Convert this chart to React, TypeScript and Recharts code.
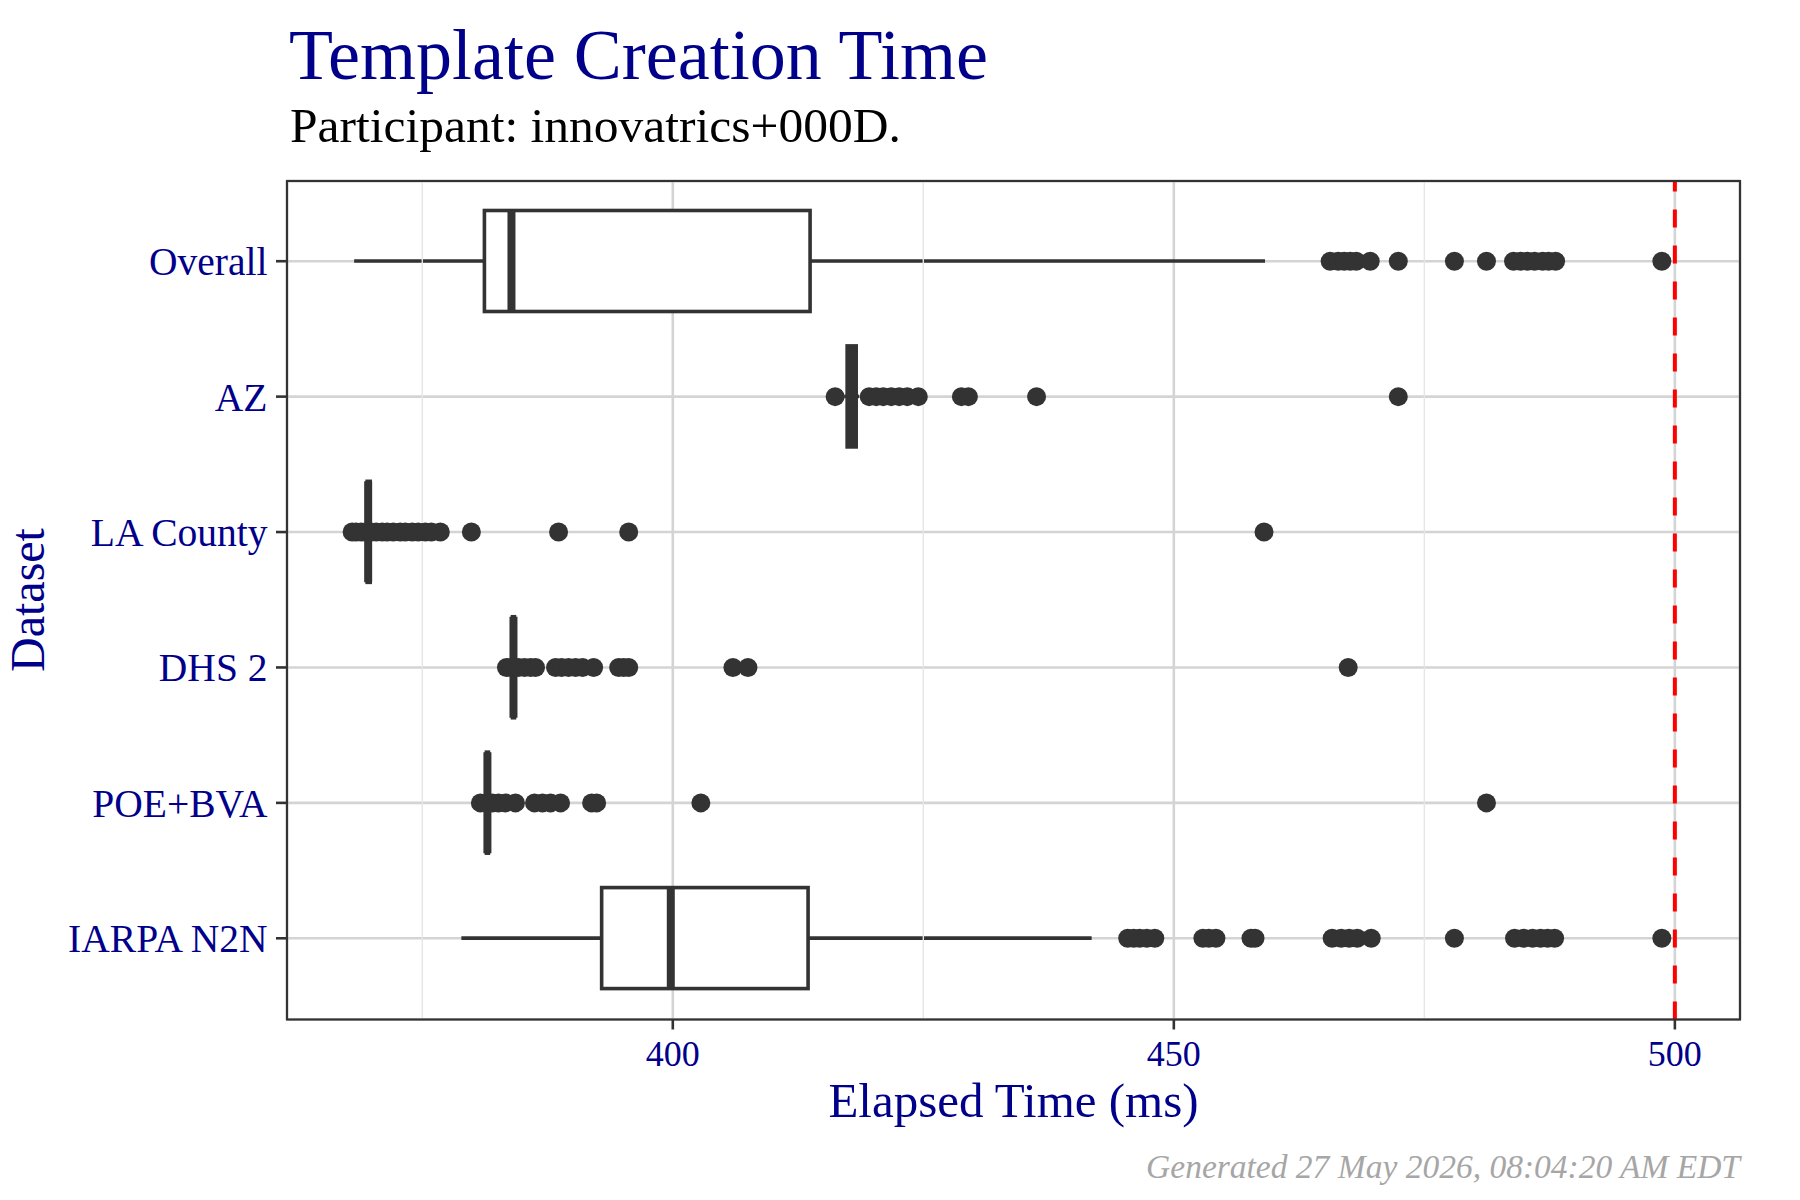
import React from 'react';
import { ComposedChart, Bar, Scatter, XAxis, YAxis, CartesianGrid, ReferenceLine } from 'recharts';

const DATASETS = ['Overall', 'AZ', 'LA County', 'DHS 2', 'POE+BVA', 'IARPA N2N'];

// box statistics per dataset (ms)
const WHISKER_LOW = [368.2, 417.1, 369.4, 383.9, 381.3, 378.9];
const Q1 = [381.2, 417.4, 369.5, 384.0, 381.4, 392.9];
const MEDIAN = [383.9, 417.9, 369.6, 384.1, 381.5, 399.8];
const Q3 = [413.7, 418.3, 369.8, 384.2, 381.6, 413.5];
const WHISKER_HIGH = [459.1, 418.6, 370.0, 384.4, 381.8, 441.8];

const OUTLIERS_OVERALL = [465.6, 466.4, 467.0, 467.6, 468.2, 469.6, 472.4, 478.0, 481.2, 483.9, 484.6, 485.3, 486.0, 486.8, 487.4, 488.1, 498.7];
const OUTLIERS_AZ = [416.2, 419.6, 420.3, 421.0, 421.8, 422.6, 423.4, 424.5, 428.8, 429.5, 436.3, 472.4];
const OUTLIERS_LA = [368.0, 368.4, 368.9, 369.3, 369.9, 370.4, 371.0, 371.5, 372.1, 372.8, 373.3, 374.0, 374.6, 375.3, 375.9, 376.8, 379.9, 388.6, 395.6, 459.0];
const OUTLIERS_DHS = [383.4, 383.9, 384.6, 385.2, 385.8, 386.3, 388.3, 388.9, 389.6, 390.3, 391.0, 392.1, 394.6, 395.1, 395.6, 406.0, 407.5, 467.4];
const OUTLIERS_POE = [380.8, 381.4, 382.0, 382.6, 383.3, 384.3, 386.2, 387.0, 387.8, 388.8, 391.9, 392.4, 402.8, 481.2];
const OUTLIERS_IARPA = [445.4, 446.0, 446.6, 447.3, 448.1, 452.9, 453.5, 454.2, 457.7, 458.1, 465.8, 466.7, 467.5, 468.3, 469.7, 478.0, 484.0, 484.9, 485.8, 486.6, 487.3, 488.0, 498.7];
const OUTLIERS = [OUTLIERS_OVERALL, OUTLIERS_AZ, OUTLIERS_LA, OUTLIERS_DHS, OUTLIERS_POE, OUTLIERS_IARPA];

const X_TICKS = [400, 450, 500];
const X_MINOR = [375, 425, 475];
const THRESHOLD = 500;

const NAVY = '#00008B';
const INK = '#333333';
const FONT = "'Liberation Serif', 'Times New Roman', serif";

// panel box in page pixels (matches chart margins / axis sizes below)
const PANEL = { left: 287, top: 181, right: 1740, bottom: 1019.5 };

const rows = DATASETS.map((name, i) => ({
  name,
  lo: [WHISKER_LOW[i], Q1[i]],
  hi: [Q3[i], WHISKER_HIGH[i]],
  box: [Q1[i], Q3[i]],
  med: [Q1[i], MEDIAN[i]],
}));

const points = DATASETS.flatMap((name, i) => OUTLIERS[i].map(v => ({ name, v })));

const WhiskerShape = (p: any) => (
  <line x1={p.x} x2={p.x + p.width} y1={p.y + p.height / 2} y2={p.y + p.height / 2} stroke={INK} strokeWidth={3.6} />
);
const BoxShape = (p: any) => (
  <rect x={p.x} y={p.y} width={p.width} height={p.height} fill="#fff" stroke={INK} strokeWidth={3.6} />
);
const MedianShape = (p: any) => (
  <line x1={p.x + p.width} x2={p.x + p.width} y1={p.y} y2={p.y + p.height} stroke={INK} strokeWidth={8} />
);
const Dot = (p: any) => <circle cx={p.cx} cy={p.cy} r={9.5} fill={INK} />;

const catAxis: any = {
  type: 'category',
  dataKey: 'name',
  allowDuplicatedCategory: false,
  padding: { top: 12.5, bottom: 13.5 },
};

const App: React.FC = () => {
  return (
    <div style={{ position: 'absolute', left: 0, top: 0, width: 1800, height: 1200, background: '#fff', fontFamily: FONT }}>
      <ComposedChart
        layout="vertical"
        width={1800}
        height={1200}
        data={rows}
        margin={{ top: PANEL.top, right: 1800 - PANEL.right, bottom: 0, left: 0 }}
      >
        <CartesianGrid yAxisId="main" stroke="#D4D4D4" strokeWidth={2.6} />
        {X_MINOR.map(v => (
          <ReferenceLine key={v} yAxisId="main" x={v} stroke="#E6E6E6" strokeWidth={1.4} />
        ))}
        <XAxis
          type="number"
          domain={[361.5, 506.5]}
          allowDataOverflow
          ticks={X_TICKS}
          height={1200 - PANEL.bottom}
          tickSize={10}
          tickMargin={11}
          axisLine={false}
          tickLine={{ stroke: INK, strokeWidth: 2.6 }}
          tick={{ fill: NAVY, fontSize: 36, fontFamily: FONT }}
        />
        <YAxis
          yAxisId="main"
          {...catAxis}
          width={PANEL.left}
          interval={0}
          tickSize={11}
          tickMargin={8.5}
          axisLine={false}
          tickLine={{ stroke: INK, strokeWidth: 2.6 }}
          tick={{ fill: NAVY, fontSize: 39.5, fontFamily: FONT }}
        />
        <YAxis yAxisId="lo" {...catAxis} hide width={0} />
        <YAxis yAxisId="hi" {...catAxis} hide width={0} />
        <YAxis yAxisId="med" {...catAxis} hide width={0} />
        <Bar yAxisId="lo" dataKey="lo" barSize={101} shape={WhiskerShape} isAnimationActive={false} />
        <Bar yAxisId="hi" dataKey="hi" barSize={101} shape={WhiskerShape} isAnimationActive={false} />
        <Bar yAxisId="main" dataKey="box" barSize={101} shape={BoxShape} isAnimationActive={false} />
        <Bar yAxisId="med" dataKey="med" barSize={101} shape={MedianShape} isAnimationActive={false} />
        <Scatter yAxisId="main" data={points} dataKey="v" shape={Dot} isAnimationActive={false} />
        <ReferenceLine yAxisId="main" x={THRESHOLD} stroke="#FF0000" strokeWidth={4} strokeDasharray="18 18" />
      </ComposedChart>
      <svg width={1800} height={1200} style={{ position: 'absolute', left: 0, top: 0, pointerEvents: 'none' }}>
        <rect
          x={PANEL.left}
          y={PANEL.top}
          width={PANEL.right - PANEL.left}
          height={PANEL.bottom - PANEL.top}
          fill="none"
          stroke={INK}
          strokeWidth={2.2}
        />
        <text x={289} y={79} fontSize={72} fill={NAVY} fontFamily={FONT}>Template Creation Time</text>
        <text x={290} y={142} fontSize={49.5} fill="#000" fontFamily={FONT}>Participant: innovatrics+000D.</text>
        <text x={1013.5} y={1117} fontSize={49} fill={NAVY} fontFamily={FONT} textAnchor="middle">Elapsed Time (ms)</text>
        <text x={44} y={600} fontSize={48} fill={NAVY} fontFamily={FONT} textAnchor="middle" transform="rotate(-90 44 600)">Dataset</text>
        <text x={1740} y={1178} fontSize={33.5} fill="#A6A6A6" fontFamily={FONT} fontStyle="italic" textAnchor="end">Generated 27 May 2026, 08:04:20 AM EDT</text>
      </svg>
    </div>
  );
};

export default App;
